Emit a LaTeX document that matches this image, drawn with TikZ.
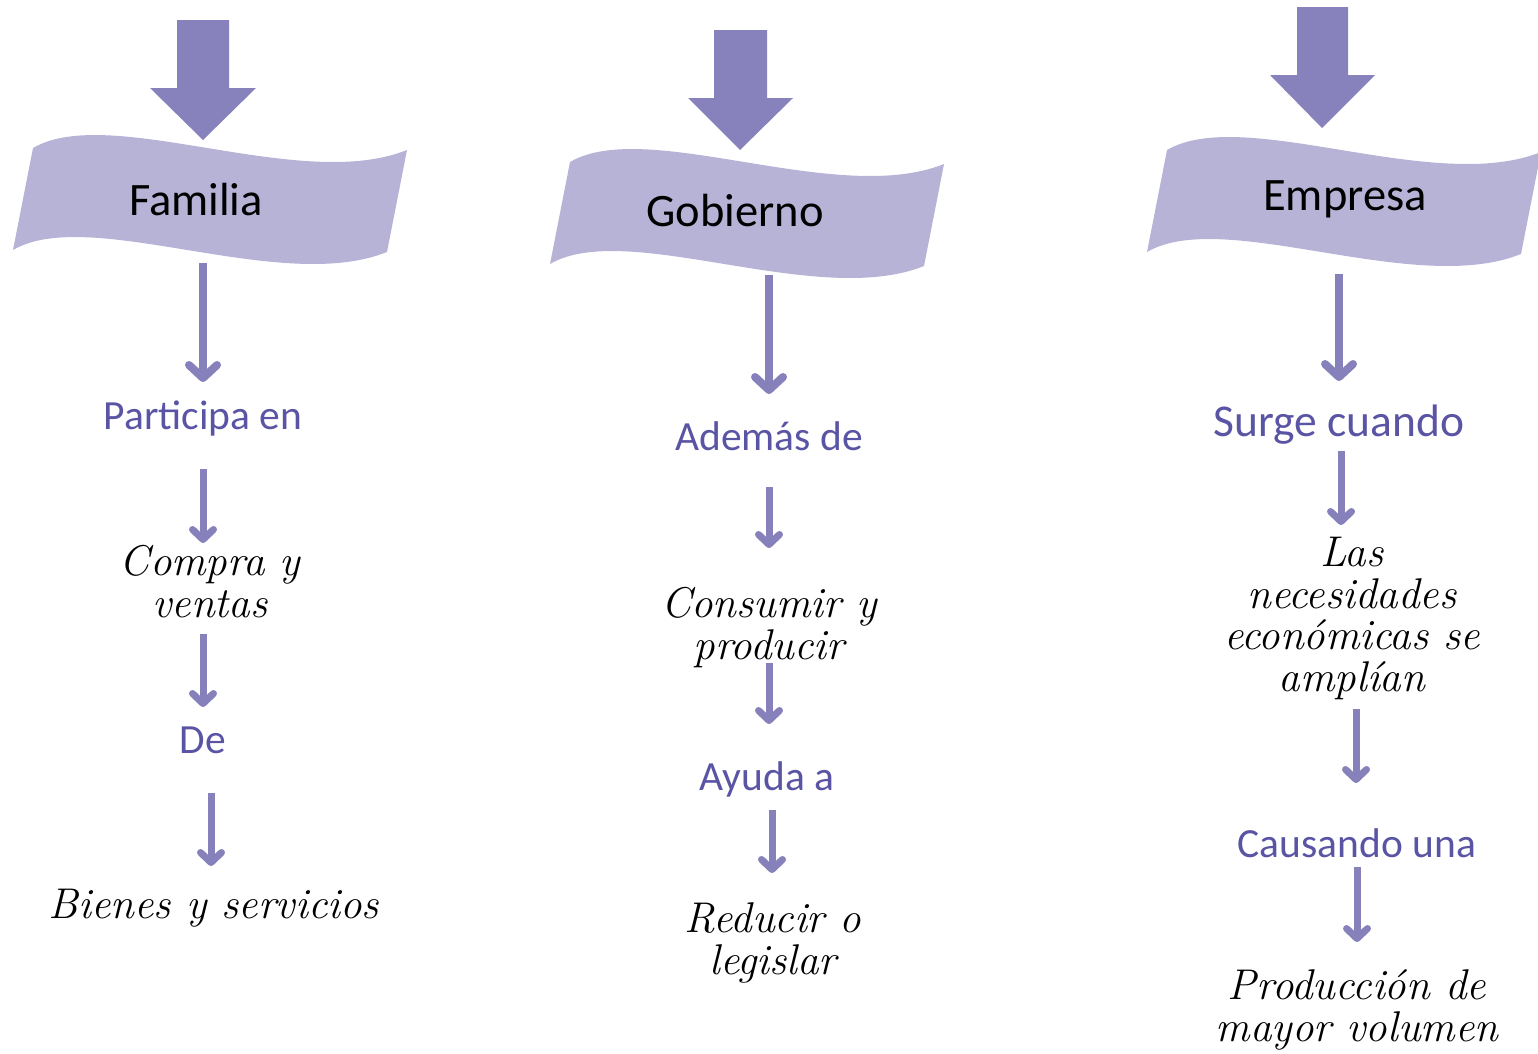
\documentclass[tikz,border=0pt]{standalone}
\usepackage{fontspec}
\newfontfamily\calibri{Carlito}
\usetikzlibrary{arrows.meta}
\definecolor{bigarrow}{RGB}{136,130,188}
\definecolor{bannerc}{RGB}{183,179,215}
\definecolor{thinarrow}{RGB}{134,128,187}
\definecolor{bluetext}{RGB}{90,84,164}
\tikzset{
  bannertext/.style={font=\calibri\fontsize{46.5}{50}\selectfont, text=black, anchor=base, inner sep=0pt},
  bluelabel/.style={font=\calibri\fontsize{41.5}{46}\selectfont, text=bluetext, anchor=base, inner sep=0pt},
  hand/.style={font=\itshape\fontsize{43}{41.5}\selectfont, text=black, anchor=base, inner sep=0pt, align=center},
  longarrow/.style={draw=thinarrow, line width=8pt, -{Straight Barb[length=13pt, width=28pt, round]}},
  shortarrow/.style={draw=thinarrow, line width=7pt, -{Straight Barb[length=10pt, width=21pt, round]}},
  bannershape/.style={fill=bannerc},
  bigarrowshape/.style={fill=bigarrow}
}
\newcommand\drawbanner[2]{%
  \fill[bannershape, shift={(#1,#2)}] (33,148) .. controls (110,103) and (300,193) .. (407,150)
    -- (387,252) .. controls (280,295) and (90,205) .. (13,250) -- cycle;}
\begin{document}
\begin{tikzpicture}[x=1pt,y=-1pt]
\useasboundingbox (0,0) rectangle (1538,1053);
\begin{scope}
\clip (0,0) rectangle (1538,1053);
% banners
\drawbanner{0}{0}
\drawbanner{537}{14}
\drawbanner{1134}{2}
\end{scope}
% big arrows
\fill[bigarrowshape] (177,20) -- (229,20) -- (229,88) -- (256,88) -- (203,140) -- (150,88) -- (177,88) -- cycle;
\fill[bigarrowshape] (714,30) -- (767,30) -- (767,98) -- (793,98) -- (740,150) -- (688,98) -- (714,98) -- cycle;
\fill[bigarrowshape] (1297,7) -- (1348,7) -- (1348,75) -- (1375,75) -- (1322,128) -- (1270,75) -- (1297,75) -- cycle;
% banner texts
\node[bannertext] (fam) at (196,215) {Familia};
\node[bannertext] (gob) at (735,226) {Gobierno};
\node[bannertext] (emp) at (1345,210) {Empresa};
% column 1
\node[bluelabel] (part) at (203,429) {Participa en};
\node[hand] (compra) at (210,617) {Compra y\\ventas};
\node[bluelabel] (de) at (203,753) {De};
\node[hand] (bienes) at (214,918) {Bienes y servicios};
% column 2
\node[bluelabel] (ademas) at (769,450) {Además de};
\node[hand] (consumir) at (769,659) {Consumir y\\producir};
\node[bluelabel] (ayuda) at (767,790) {Ayuda a};
\node[hand] (reducir) at (773,974) {Reducir o\\legislar};
% column 3
\node[bluelabel, font=\calibri\fontsize{45.5}{48}\selectfont] (surge) at (1339,436) {Surge cuando};
\node[hand] (nec) at (1352,691) {Las\\necesidades\\económicas se\\amplían};
\node[bluelabel] (causando) at (1357,857) {Causando una};
\node[hand] (prod) at (1357,1041) {Producción de\\mayor volumen};
% arrow coordinates
\coordinate (a1s) at (203,263); \coordinate (a1e) at (203,382);
\coordinate (a2s) at (203,469); \coordinate (a2e) at (203,543);
\coordinate (a3s) at (203,634); \coordinate (a3e) at (203,707);
\coordinate (a4s) at (211,793); \coordinate (a4e) at (211,866);
\coordinate (b1s) at (769,275); \coordinate (b1e) at (769,394);
\coordinate (b2s) at (769,487); \coordinate (b2e) at (769,548);
\coordinate (b3s) at (769,663); \coordinate (b3e) at (769,724);
\coordinate (b4s) at (772,810); \coordinate (b4e) at (772,873);
\coordinate (c1s) at (1339,274); \coordinate (c1e) at (1339,381);
\coordinate (c2s) at (1341,451); \coordinate (c2e) at (1341,525);
\coordinate (c3s) at (1356,709); \coordinate (c3e) at (1356,783);
\coordinate (c4s) at (1357,867); \coordinate (c4e) at (1357,942);
\draw[longarrow] (a1s) -- (a1e);
\draw[shortarrow] (a2s) -- (a2e);
\draw[shortarrow] (a3s) -- (a3e);
\draw[shortarrow] (a4s) -- (a4e);
\draw[longarrow] (b1s) -- (b1e);
\draw[shortarrow] (b2s) -- (b2e);
\draw[shortarrow] (b3s) -- (b3e);
\draw[shortarrow] (b4s) -- (b4e);
\draw[longarrow] (c1s) -- (c1e);
\draw[shortarrow] (c2s) -- (c2e);
\draw[shortarrow] (c3s) -- (c3e);
\draw[shortarrow] (c4s) -- (c4e);
\end{tikzpicture}
\end{document}
